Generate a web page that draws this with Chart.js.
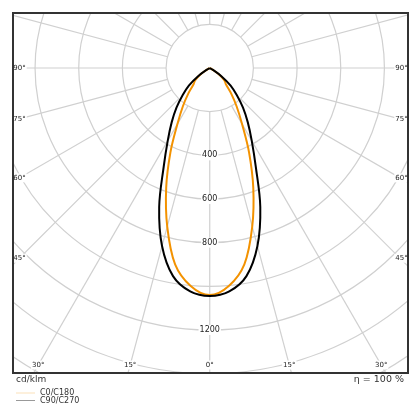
<!DOCTYPE html>
<html lang="en">
<head>
<meta charset="UTF-8">
<title>Luminous intensity distribution</title>
<script src="https://cdn.jsdelivr.net/npm/chart.js"></script>
<style>
  html, body { margin: 0; padding: 0; background: #fff; }
</style>
</head>
<body>
<canvas id="ldc" width="420" height="420"></canvas>
<script>
// gamma angles in degrees, intensities in cd/klm
const gammaAngles = [0, 5, 10, 15, 20, 25, 30, 35, 40, 45, 50, 55, 60, 65, 70, 75, 80, 85, 90];
const c0c180 = [1040, 1002, 913, 752, 583, 426, 296, 215, 153, 104, 88, 55, 12, 0, 0, 0, 0, 0, 0];
const c90c270 = [1044, 1027, 968, 844, 677, 499, 385, 304, 237, 175, 125, 65, 15, 0, 0, 0, 0, 0, 0];

const seriesNames = ['C0/C180', 'C90/C270'];
const seriesColors = ['#f39200', '#000000'];

// grid
const rings = [200, 400, 600, 800, 1000, 1200, 1400, 1600, 1800];
const ringLabels = [400, 600, 800, 1200];
const spokeStep = 15;
const sideLabels = [90, 75, 60, 45];
const bottomLabels = [30, 15, 0];

const unitText = 'cd/klm';
const effText = 'η = 100 %';

// turn one symmetric half-curve into a closed outline, x = I·sinγ, y = I·cosγ
function outline(values) {
  const pts = [];
  for (let i = gammaAngles.length - 1; i > 0; i--) {
    const g = -gammaAngles[i] * Math.PI / 180;
    pts.push({x: values[i] * Math.sin(g), y: values[i] * Math.cos(g)});
  }
  for (let i = 0; i < gammaAngles.length; i++) {
    const g = gammaAngles[i] * Math.PI / 180;
    pts.push({x: values[i] * Math.sin(g), y: values[i] * Math.cos(g)});
  }
  return pts;
}

const font = 'DejaVu Sans, sans-serif';

const polarGrid = {
  id: 'polarGrid',
  beforeDatasetsDraw(chart) {
    const {ctx, chartArea: a, scales: {x, y}} = chart;
    const px = (vx, vy) => [x.getPixelForValue(vx), y.getPixelForValue(vy)];
    const [cx, cy] = px(0, 0);
    const k = x.getPixelForValue(1000) - cx;
    ctx.save();
    ctx.beginPath();
    ctx.rect(a.left, a.top, a.right - a.left, a.bottom - a.top);
    ctx.clip();
    ctx.strokeStyle = '#d0d0d0';
    ctx.lineWidth = 1.2;
    rings.forEach(r => {
      ctx.beginPath();
      ctx.arc(cx, cy, r * k / 1000, 0, Math.PI * 2);
      ctx.stroke();
    });
    for (let d = 0; d < 360; d += spokeStep) {
      const g = d * Math.PI / 180;
      const [x0, y0] = px(rings[0] * Math.sin(g), rings[0] * Math.cos(g));
      const [x1, y1] = px(3000 * Math.sin(g), 3000 * Math.cos(g));
      ctx.beginPath();
      ctx.moveTo(x0, y0);
      ctx.lineTo(x1, y1);
      ctx.stroke();
    }

    // labels with white backing
    const label = (txt, lx, ly, size) => {
      ctx.font = size + 'px ' + font;
      const w = ctx.measureText(txt).width;
      ctx.fillStyle = '#fff';
      ctx.fillRect(lx - w / 2 - 1, ly - size / 2 - 1, w + 2, size + 2);
      ctx.fillStyle = '#222';
      ctx.fillText(txt, lx, ly);
    };
    ctx.textAlign = 'center';
    ctx.textBaseline = 'middle';
    ringLabels.forEach(r => {
      const [lx, ly] = px(0, r);
      label(String(r), lx, ly, 8);
    });
    const sideX = 6.5;
    sideLabels.forEach(d => {
      const g = d * Math.PI / 180;
      const t = (cx - a.left - sideX) / Math.sin(g);
      const ly = cy + t * Math.cos(g);
      label(d + '°', a.left + sideX, ly, 7);
      label(d + '°', a.right - sideX, ly, 7);
    });
    const bottomY = a.bottom - 8;
    bottomLabels.forEach(d => {
      const g = d * Math.PI / 180;
      const off = (bottomY - cy) * Math.tan(g);
      label(d + '°', cx - off, bottomY, 7);
      if (d) label(d + '°', cx + off, bottomY, 7);
    });
    ctx.restore();
  },
  afterDraw(chart) {
    const {ctx, chartArea: a} = chart;
    ctx.save();
    ctx.strokeStyle = '#333';
    ctx.lineWidth = 2;
    ctx.strokeRect(a.left, a.top, a.right - a.left, a.bottom - a.top);

    ctx.fillStyle = '#333';
    ctx.textBaseline = 'middle';
    ctx.font = '9px ' + font;
    ctx.textAlign = 'left';
    ctx.fillText(unitText, a.left + 3, a.bottom + 6.5);
    ctx.textAlign = 'right';
    ctx.font = '9.5px ' + font;
    ctx.fillText(effText, a.right - 4, a.bottom + 6.5);

    ctx.font = '8px ' + font;
    ctx.textAlign = 'left';
    seriesNames.forEach((n, i) => {
      const ly = a.bottom + 20 + i * 7.5;
      ctx.strokeStyle = seriesColors[i];
      ctx.globalAlpha = i ? 0.5 : 0.35;
      ctx.lineWidth = 0.8;
      ctx.beginPath();
      ctx.moveTo(a.left + 3, ly);
      ctx.lineTo(a.left + 22, ly);
      ctx.stroke();
      ctx.globalAlpha = 1;
      ctx.fillStyle = '#333';
      ctx.fillText(n, a.left + 27, ly);
    });
    ctx.restore();
  }
};

const chart = new Chart(document.getElementById('ldc'), {
  type: 'scatter',
  data: {
    datasets: [
      {
        label: seriesNames[0],
        data: outline(c0c180),
        showLine: true,
        borderColor: seriesColors[0],
        borderWidth: 2,
        pointRadius: 0,
        tension: 0.35,
        order: 2
      },
      {
        label: seriesNames[1],
        data: outline(c90c270),
        showLine: true,
        borderColor: seriesColors[1],
        borderWidth: 2,
        pointRadius: 0,
        tension: 0.35,
        order: 1
      }
    ]
  },
  options: {
    responsive: false,
    animation: false,
    layout: {padding: {left: 13, right: 12, top: 13, bottom: 47}},
    scales: {
      x: {type: 'linear', min: -901, max: 908, display: false},
      y: {type: 'linear', min: -252, max: 1397, reverse: true, display: false}
    },
    plugins: {
      legend: {display: false},
      tooltip: {enabled: false}
    }
  },
  plugins: [polarGrid]
});
</script>
</body>
</html>
